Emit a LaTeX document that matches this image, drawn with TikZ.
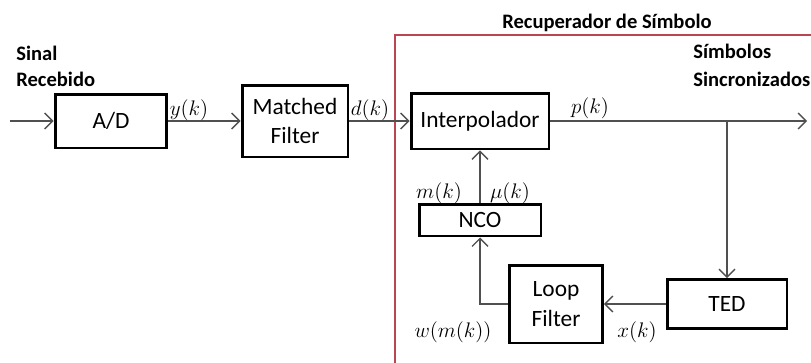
\documentclass[tikz,border=0pt]{standalone}
\usepackage{fontspec}
\setmainfont{Carlito}
\usetikzlibrary{arrows.meta}

\definecolor{boxred}{RGB}{185,70,80}
\definecolor{wiregray}{RGB}{80,80,80}

\tikzset{
    blk/.style={draw, line width=1.7pt, inner sep=0pt, align=center, font=\fontsize{13.3}{17}\selectfont},
    wire/.style={draw=wiregray, line width=0.8pt, -{Straight Barb[length=4.5pt,width=9pt]}},
    lbl/.style={inner sep=0pt, font=\fontsize{12.3}{15}\selectfont},
    hdr/.style={inner sep=0pt, anchor=west, font=\fontsize{11.7}{14}\selectfont\bfseries}
}

\begin{document}
\begin{tikzpicture}[x=0.02cm, y=-0.02cm]
    \useasboundingbox (0,0) rectangle (811,362);

    % Symbol recovery frame
    \draw[boxred, line width=0.6pt] (395,370) -- (395,35) -- (820,35);
    \node[hdr, anchor=center] (title) at (607,23) {Recuperador de Símbolo};

    % Input and output texts
    \node[hdr] (sinal) at (16,53) {Sinal};
    \node[hdr] (receb) at (16,79) {Recebido};
    \node[hdr] (simb) at (693,51) {Símbolos};
    \node[hdr] (sinc) at (693,79) {Sincronizados};

    % Blocks
    \node[blk, minimum width=2.24cm, minimum height=1.08cm] (ad) at (111,121) {A/D};
    \node[blk, minimum width=2.12cm, minimum height=1.44cm] (mf) at (295,121) {Matched\\Filter};
    \node[blk, minimum width=2.76cm, minimum height=1.12cm] (interp) at (480,121) {Interpolador};
    \node[blk, minimum width=2.44cm, minimum height=0.64cm] (nco) at (480,220) {NCO};
    \node[blk, minimum width=1.86cm, minimum height=1.56cm] (lf) at (556,304) {Loop\\Filter};
    \node[blk, minimum width=2.40cm, minimum height=0.98cm] (ted) at (727,304) {TED};

    % Free ends
    \coordinate (in) at (10,121);
    \coordinate (out) at (807,121);
    \coordinate (tap) at (727,121);

    % Connectors
    \draw[wire] (in) -- (ad);
    \draw[wire] (ad) -- (mf);
    \draw[wire] (mf) -- (interp);
    \draw[wire] (interp) -- (out);
    \draw[wire] (tap) -- (ted);
    \draw[wire] (ted) -- (lf);
    \draw[wire] (lf.west) -| (nco.south);
    \draw[wire] (nco) -- (interp);

    % Signal labels
    \node[lbl] (yk) at (189,110) {$y(k)$};
    \node[lbl] (dk) at (370,110) {$d(k)$};
    \node[lbl] (pk) at (590,108) {$p(k)$};
    \node[lbl] (mk) at (439,193) {$m(k)$};
    \node[lbl] (muk) at (510,193) {$\mu(k)$};
    \node[lbl] (wk) at (453,332) {$w(m(k))$};
    \node[lbl] (xk) at (637,332) {$x(k)$};
\end{tikzpicture}
\end{document}
